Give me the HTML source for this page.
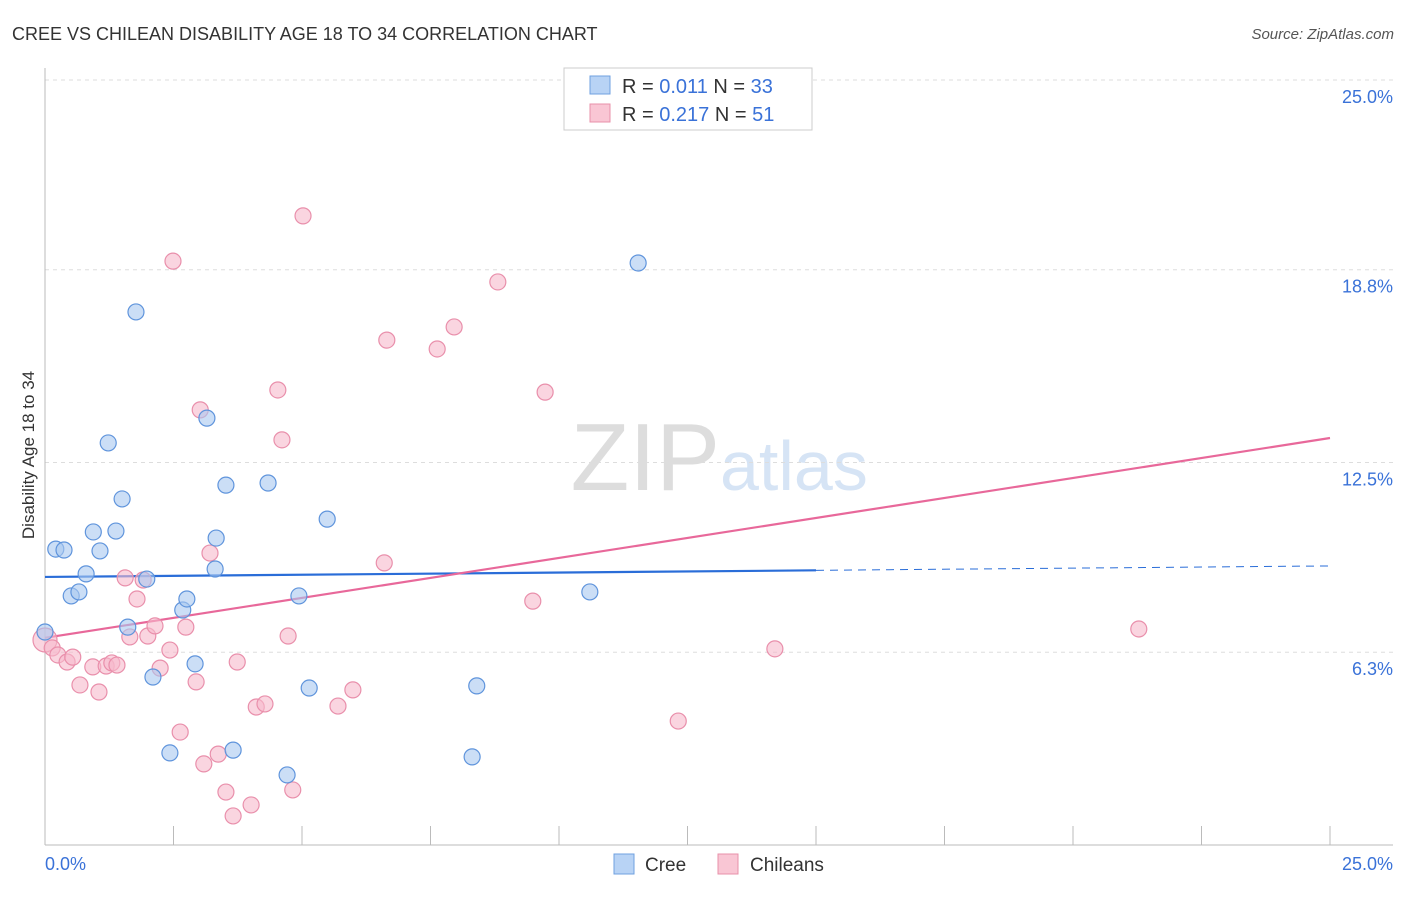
<!DOCTYPE html>
<html><head><meta charset="utf-8"><style>
body{margin:0;background:#fff;font-family:"Liberation Sans",sans-serif;}
svg text{font-family:"Liberation Sans",sans-serif;}
</style></head><body>
<svg id="chart" width="1406" height="892">
<text x="12" y="40" font-size="18" fill="#333">CREE VS CHILEAN DISABILITY AGE 18 TO 34 CORRELATION CHART</text>
<text x="1394" y="39" font-size="15" fill="#555" font-style="italic" text-anchor="end">Source: ZipAtlas.com</text>
<text x="720" y="490" font-size="96" fill="#ddd" text-anchor="end" font-family="Liberation Serif">ZIP</text>
<text x="720" y="490" font-size="70" fill="#d6e4f5">atlas</text>
<text transform="translate(34,455) rotate(-90)" font-size="17" fill="#333" text-anchor="middle">Disability Age 18 to 34</text>
<g id="grid"></g><g id="lines"></g><g id="pts"></g>
<g>
<rect x="564" y="68" width="248" height="62" fill="#fff" stroke="#ccc"/>
<rect x="590" y="76" width="20" height="18" fill="#b8d3f5" stroke="#6fa0e0"/>
<rect x="590" y="104" width="20" height="18" fill="#f9c6d4" stroke="#e890aa"/>
<text x="622" y="93" font-size="20" fill="#333">R = <tspan fill="#3a72d8">0.011</tspan>   N = <tspan fill="#3a72d8">33</tspan></text>
<text x="622" y="121" font-size="20" fill="#333">R = <tspan fill="#3a72d8">0.217</tspan>   N = <tspan fill="#3a72d8">51</tspan></text>
</g>
<g>
<rect x="614" y="854" width="20" height="20" fill="#b8d3f5" stroke="#6fa0e0"/>
<text x="645" y="871" font-size="19" fill="#333">Cree</text>
<rect x="718" y="854" width="20" height="20" fill="#f9c6d4" stroke="#e890aa"/>
<text x="750" y="871" font-size="19" fill="#333">Chileans</text>
</g>
</svg>
<script>
const yTicks=[25.0,18.8,12.5,6.3];
const yTickLabels=["25.0%","18.8%","12.5%","6.3%"];
const xTickLabels=["0.0%","25.0%"];
const creeX=[0,0.21,0.37,0.51,0.66,0.80,0.94,1.07,1.23,1.38,1.50,1.61,1.77,1.98,2.10,2.43,2.68,2.76,2.92,3.15,3.33,3.31,3.52,3.66,4.34,4.71,4.94,5.14,5.49,8.31,8.40,10.60,11.54];
const creeY=[6.96,9.67,9.64,8.14,8.27,8.86,10.23,9.61,13.14,10.26,11.31,7.12,17.42,8.69,5.49,3.01,7.68,8.04,5.92,13.95,10.03,9.02,11.76,3.10,11.83,2.29,8.14,5.13,10.65,2.88,5.20,8.27,19.02];
const chilX=[0,0.14,0.25,0.43,0.54,0.68,0.93,1.05,1.19,1.30,1.40,1.56,1.65,1.79,1.91,2.00,2.14,2.24,2.43,2.49,2.63,2.74,2.94,3.02,3.09,3.21,3.37,3.52,3.66,3.74,4.01,4.11,4.28,4.53,4.61,4.73,4.82,5.02,5.70,5.99,6.60,6.65,7.63,7.96,8.81,9.49,9.73,12.32,14.20,21.28];
const chilY=[6.70,6.44,6.21,5.98,6.14,5.23,5.82,5.00,5.85,5.95,5.88,8.73,6.80,8.04,8.66,6.83,7.16,5.78,6.37,19.08,3.69,7.12,5.33,14.22,2.65,9.54,2.97,1.73,0.95,5.98,1.31,4.51,4.61,14.87,13.24,6.83,1.80,20.56,4.54,5.07,9.22,16.50,16.21,16.93,18.40,7.97,14.80,4.05,6.41,7.06];
const creeFit=[8.76,9.12];
const chilFit=[6.77,13.3];
const sx=v=>45+v*51.4, sy=v=>845-v*30.6;
const NS="http://www.w3.org/2000/svg";
function mk(parent,tag,attrs){const e=document.createElementNS(NS,tag);for(const k in attrs)e.setAttribute(k,attrs[k]);document.getElementById(parent).appendChild(e);return e;}
yTicks.forEach((t,i)=>{
 const l=mk('grid','line',{x1:45,x2:1393,y1:sy(t),y2:sy(t),stroke:'#ddd','stroke-dasharray':'4,4'});
 
 
 const tx=mk('grid','text',{x:1393,y:sy(t)+23,'font-size':18,fill:'#3a72d8','text-anchor':'end'});
 tx.textContent=yTickLabels[i];
 
 
});
const ax=mk('grid','line',{x1:45,x2:45,y1:68,y2:845,stroke:'#bbb'});


const bx=mk('grid','line',{x1:45,x2:1393,y1:845,y2:845,stroke:'#bbb'});


for(let i=0;i<=10;i++){const v=i*2.5;const t=mk('grid','line',{x1:sx(v),x2:sx(v),y1:826,y2:845,stroke:'#bbb'});
 
 }
[[0,'start',45],[25,'end',1393]].forEach((d,i)=>{const t=mk('grid','text',{x:d[2],y:870,'font-size':18,fill:'#3a72d8','text-anchor':d[1]});t.textContent=xTickLabels[i];
 
 });
function dot(x,y,r,fill,stroke,name){const c=mk('pts','circle',{cx:sx(x),cy:sy(y),r:r,fill:fill,'fill-opacity':0.6,stroke:stroke,'stroke-width':1.2});
 
 }
chilX.forEach((x,i)=>dot(x,chilY[i],i===0?12:8,'#f7b9cb','#e98fab','chilean-point'));
creeX.forEach((x,i)=>dot(x,creeY[i],8,'#a9c8f0','#5f94dc','cree-point'));
const cy15=creeFit[0]+(creeFit[1]-creeFit[0])*15/25;
const l1=mk('lines','line',{x1:sx(0),y1:sy(creeFit[0]),x2:sx(15),y2:sy(cy15),stroke:'#2a6dd8','stroke-width':2.2});


const l2=mk('lines','line',{x1:sx(15),y1:sy(cy15),x2:sx(25),y2:sy(creeFit[1]),stroke:'#2a6dd8','stroke-width':1,'stroke-dasharray':'8,6'});


const l3=mk('lines','line',{x1:sx(0),y1:sy(chilFit[0]),x2:sx(25),y2:sy(chilFit[1]),stroke:'#e8689a','stroke-width':2.2});


</script>
</body></html>
